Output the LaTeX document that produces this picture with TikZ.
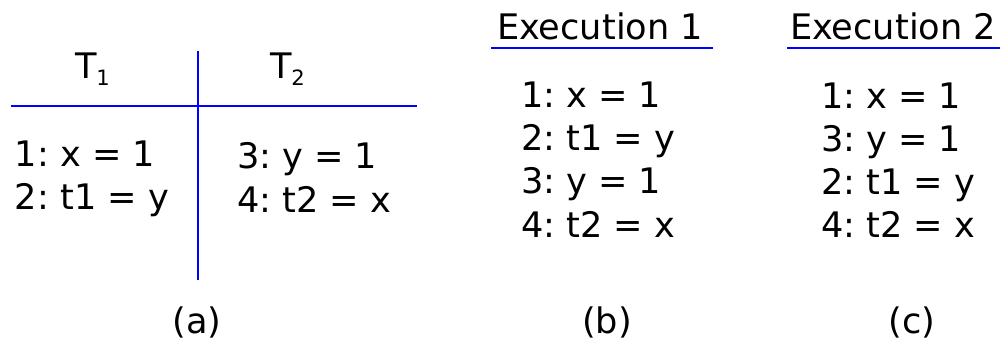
\documentclass[tikz,border=0pt]{standalone}
\usepackage{fontspec}
\setmainfont{DejaVu Sans}
\newcommand{\thread}[2]{#1\raisebox{-5pt}{\fontsize{15}{15}\selectfont #2}}

\begin{document}
\frenchspacing
\begin{tikzpicture}[x=0.025cm, y=-0.025cm,
  every node/.style={inner sep=0pt, outer sep=0pt, font=\fontsize{25}{30}\selectfont},
  line/.style={draw=blue, line width=2pt},
  code/.style={anchor=base west}]
\useasboundingbox (0,0) rectangle (1000,343);

% (a) the program
\node[code] (t1) at (75,78) {\thread{T}{1}};
\node[code] (t2) at (270,78) {\thread{T}{2}};
\coordinate (hl) at (11,106);
\coordinate (hr) at (417,106);
\coordinate (vt) at (198,51);
\coordinate (vb) at (198,280);
\draw[line] (hl) -- (hr);
\draw[line] (vt) -- (vb);
\node[code] (a1) at (15,166) {1: x = 1};
\node[code] (a2) at (15,209) {2: t1 = y};
\node[code] (a3) at (237,168) {3: y = 1};
\node[code] (a4) at (237,212) {4: t2 = x};

% (b) execution 1
\node[code] (e1) at (497,39) {Execution 1};
\coordinate (e1l) at (491,48);
\coordinate (e1r) at (713,48);
\draw[line] (e1l) -- (e1r);
\node[code] (b1) at (521,107) {1: x = 1};
\node[code] (b2) at (521,150) {2: t1 = y};
\node[code] (b3) at (521,193) {3: y = 1};
\node[code] (b4) at (521,237) {4: t2 = x};

% (c) execution 2
\node[code] (e2) at (790,39) {Execution 2};
\coordinate (e2l) at (787,48);
\coordinate (e2r) at (1000,48);
\draw[line] (e2l) -- (e2r);
\node[code] (c1) at (821,108) {1: x = 1};
\node[code] (c2) at (821,151) {3: y = 1};
\node[code] (c3) at (821,194) {2: t1 = y};
\node[code] (c4) at (821,237) {4: t2 = x};

% captions
\node[anchor=base] (capa) at (197,333) {(a)};
\node[anchor=base] (capb) at (607,333) {(b)};
\node[anchor=base] (capc) at (912,333) {(c)};
\end{tikzpicture}
\end{document}
